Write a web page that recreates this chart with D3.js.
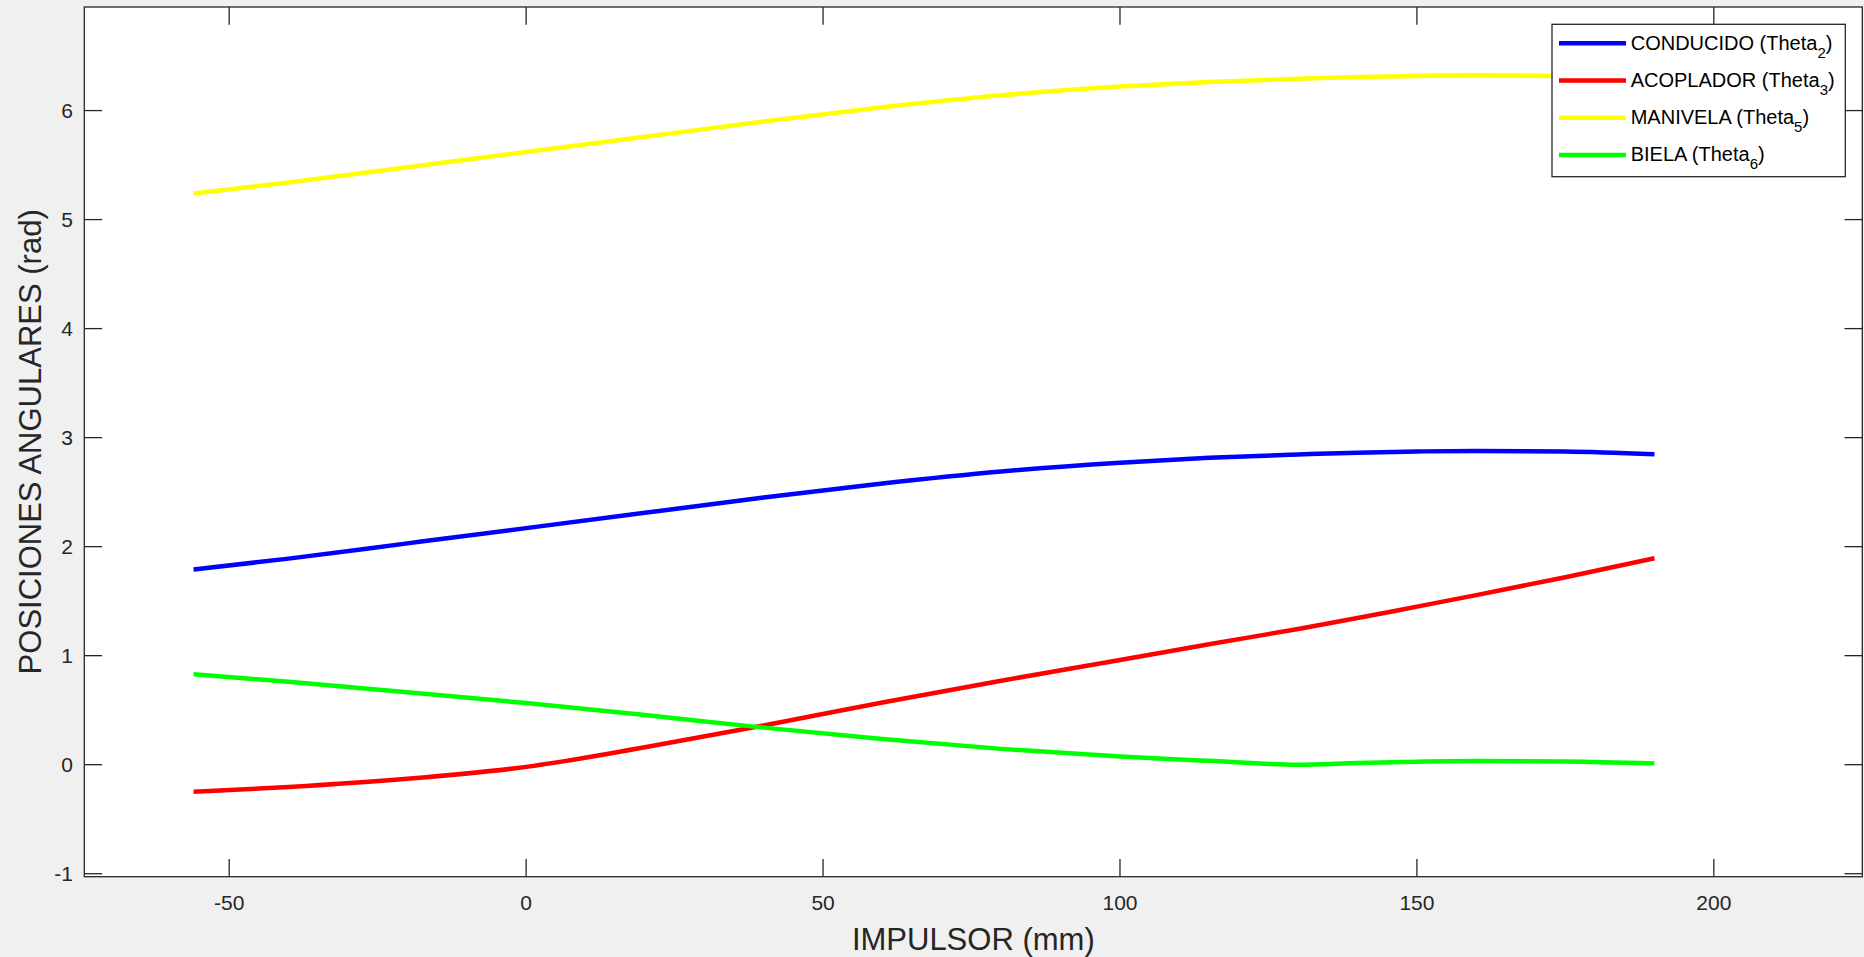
<!DOCTYPE html>
<html>
<head>
<meta charset="utf-8">
<script src="https://cdn.jsdelivr.net/npm/d3@7"></script>
<style>
    body { margin: 0; background: #f0f0f0; }
    svg { display: block; font-family: "Liberation Sans", Arial, sans-serif; }
    .tickLabel { font-size: 21px; fill: #262626; }
    .axisLabel { font-size: 31px; fill: #262626; }
    .legendText { font-size: 20px; fill: #000; }
</style>
</head>
<body>
<div id="chart"></div>
<script>

// values
const impulsor = [-56, -40, -20, 0, 20, 40, 60, 80, 100, 115, 130, 140, 150, 160, 175, 190];
const conducido = [1.79, 1.89, 2.03, 2.17, 2.31, 2.45, 2.58, 2.69, 2.77, 2.815, 2.845, 2.862, 2.873, 2.878, 2.872, 2.847];
const acoplador = [-0.248, -0.205, -0.13, -0.02, 0.16, 0.36, 0.57, 0.77, 0.96, 1.105, 1.245, 1.345, 1.45, 1.555, 1.72, 1.893];
const manivela = [5.24, 5.34, 5.48, 5.62, 5.76, 5.90, 6.03, 6.14, 6.22, 6.262, 6.292, 6.308, 6.318, 6.323, 6.318, 6.295];
const biela = [0.829, 0.76, 0.665, 0.565, 0.455, 0.34, 0.235, 0.145, 0.075, 0.035, 0.0, 0.015, 0.028, 0.034, 0.03, 0.012];

const xTicks = [-50, 0, 50, 100, 150, 200];
const yTicks = [-1, 0, 1, 2, 3, 4, 5, 6];

const seriesNames = ["CONDUCIDO", "ACOPLADOR", "MANIVELA", "BIELA"];
const seriesSubs = ["2", "3", "5", "6"];
const seriesColors = ["#0000ff", "#ff0000", "#ffff00", "#00ff00"];
const seriesValues = [conducido, acoplador, manivela, biela];

/**********************
***** BASIC SETUP *****
**********************/

const width = 1864;
const height = 957;
const box = {left: 84.3, right: 1862.3, top: 7, bottom: 876.7};
const tickLen = 17.8;
const axisColor = "#262626";

const svg = d3.select("#chart")
    .append("svg")
    .attr("width", width)
    .attr("height", height);

svg.append("rect")
    .attr("width", width)
    .attr("height", height)
    .attr("fill", "#f0f0f0");

svg.append("rect")
    .attr("x", box.left)
    .attr("y", box.top)
    .attr("width", box.right - box.left)
    .attr("height", box.bottom - box.top)
    .attr("fill", "#ffffff");

/***********************
***** X & Y SCALES *****
***********************/

const xScale = d3.scaleLinear()
    .domain([-74.4, 225.0])
    .range([box.left, box.right]);

const yScale = d3.scaleLinear()
    .domain([-1.0275, 6.95])
    .range([box.bottom, box.top]);

/*****************
***** LINES ******
*****************/

svg.append("clipPath")
    .attr("id", "plotClip")
    .append("rect")
    .attr("x", box.left)
    .attr("y", box.top)
    .attr("width", box.right - box.left)
    .attr("height", box.bottom - box.top);

const line = d3.line()
    .x((d, i) => xScale(impulsor[i]))
    .y(d => yScale(d))
    .curve(d3.curveMonotoneX);

svg.append("g")
    .attr("clip-path", "url(#plotClip)")
    .selectAll(".series")
    .data(seriesValues)
    .enter()
    .append("path")
    .attr("class", "series")
    .attr("d", d => line(d))
    .attr("fill", "none")
    .attr("stroke", (d, i) => seriesColors[i])
    .attr("stroke-width", 4.5)
    .attr("stroke-linejoin", "round");

/***************************
***** AXES, TICKS, BOX *****
***************************/

const axes = svg.append("g").attr("id", "axes");

// bottom + top ticks
axes.selectAll(".xTickB")
    .data(xTicks)
    .enter()
    .append("line")
    .attr("x1", d => xScale(d))
    .attr("x2", d => xScale(d))
    .attr("y1", box.bottom)
    .attr("y2", box.bottom - tickLen)
    .attr("stroke", axisColor)
    .attr("stroke-width", 1.3);

axes.selectAll(".xTickT")
    .data(xTicks)
    .enter()
    .append("line")
    .attr("x1", d => xScale(d))
    .attr("x2", d => xScale(d))
    .attr("y1", box.top)
    .attr("y2", box.top + tickLen)
    .attr("stroke", axisColor)
    .attr("stroke-width", 1.3);

// left + right ticks
axes.selectAll(".yTickL")
    .data(yTicks)
    .enter()
    .append("line")
    .attr("x1", box.left)
    .attr("x2", box.left + tickLen)
    .attr("y1", d => yScale(d))
    .attr("y2", d => yScale(d))
    .attr("stroke", axisColor)
    .attr("stroke-width", 1.3);

axes.selectAll(".yTickR")
    .data(yTicks)
    .enter()
    .append("line")
    .attr("x1", box.right)
    .attr("x2", box.right - tickLen)
    .attr("y1", d => yScale(d))
    .attr("y2", d => yScale(d))
    .attr("stroke", axisColor)
    .attr("stroke-width", 1.3);

// box outline
axes.append("rect")
    .attr("x", box.left)
    .attr("y", box.top)
    .attr("width", box.right - box.left)
    .attr("height", box.bottom - box.top)
    .attr("fill", "none")
    .attr("stroke", axisColor)
    .attr("stroke-width", 1.3);

// tick labels
axes.selectAll(".xTickLabel")
    .data(xTicks)
    .enter()
    .append("text")
    .attr("class", "tickLabel")
    .attr("x", d => xScale(d))
    .attr("y", 909.5)
    .attr("text-anchor", "middle")
    .text(d => d);

axes.selectAll(".yTickLabel")
    .data(yTicks)
    .enter()
    .append("text")
    .attr("class", "tickLabel")
    .attr("x", box.left - 11.3)
    .attr("y", d => yScale(d))
    .attr("dy", "0.35em")
    .attr("text-anchor", "end")
    .text(d => d);

// axis labels
svg.append("text")
    .attr("class", "axisLabel")
    .attr("x", (box.left + box.right) / 2)
    .attr("y", 950)
    .attr("text-anchor", "middle")
    .text("IMPULSOR (mm)");

svg.append("text")
    .attr("class", "axisLabel")
    .attr("transform", `translate(40.5, ${(box.top + box.bottom) / 2}) rotate(-90)`)
    .attr("text-anchor", "middle")
    .text("POSICIONES ANGULARES (rad)");

/*****************
***** LEGEND *****
*****************/

const legend = svg.append("g").attr("id", "legend");

legend.append("rect")
    .attr("x", 1552)
    .attr("y", 24.3)
    .attr("width", 1845.3 - 1552)
    .attr("height", 176.7 - 24.3)
    .attr("fill", "#ffffff")
    .attr("stroke", axisColor)
    .attr("stroke-width", 1.3);

const rowY = i => 43.3 + i * 37.2;

legend.selectAll(".legendLine")
    .data(seriesNames)
    .enter()
    .append("line")
    .attr("x1", 1559)
    .attr("x2", 1626)
    .attr("y1", (d, i) => rowY(i))
    .attr("y2", (d, i) => rowY(i))
    .attr("stroke", (d, i) => seriesColors[i])
    .attr("stroke-width", 4.5);

const legendText = legend.selectAll(".legendText")
    .data(seriesNames)
    .enter()
    .append("text")
    .attr("class", "legendText")
    .attr("x", 1630.7)
    .attr("y", (d, i) => rowY(i) + 6.5);

legendText.append("tspan").text(d => d + " (Theta");
legendText.append("tspan")
    .attr("dy", 8)
    .style("font-size", "15px")
    .text((d, i) => seriesSubs[i]);
legendText.append("tspan")
    .attr("dy", -8)
    .text(")");

</script>
</body>
</html>
